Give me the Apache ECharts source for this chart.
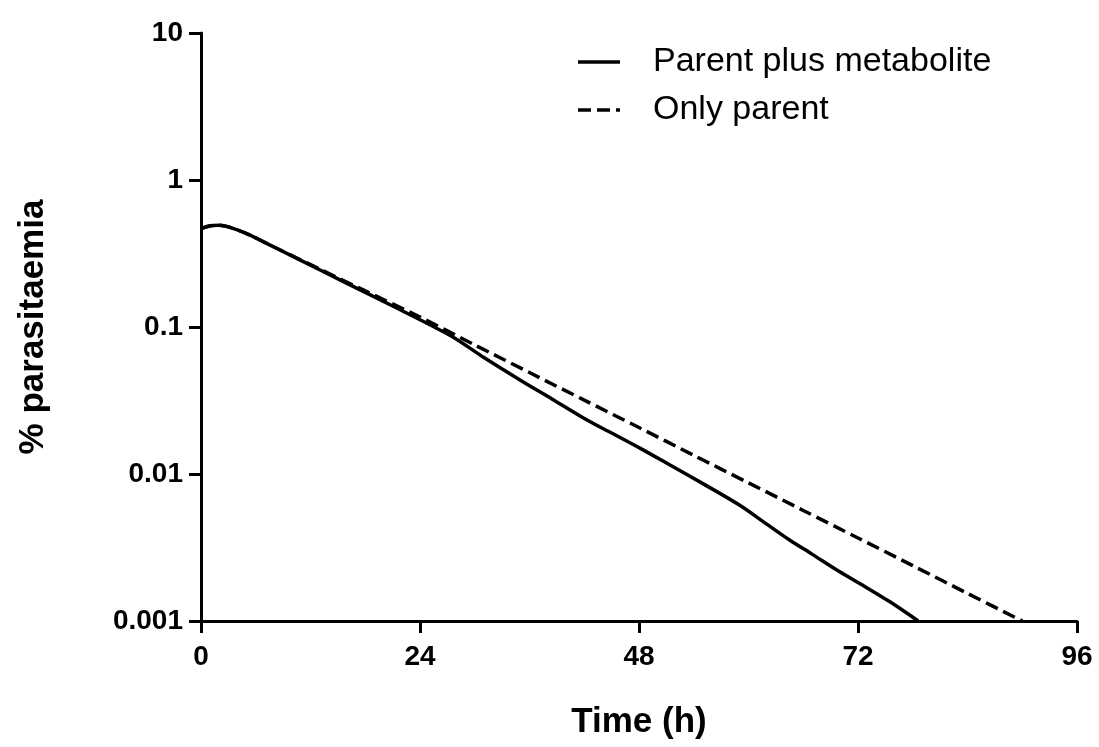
<!DOCTYPE html>
<html>
<head>
<meta charset="utf-8">
<script src="https://cdn.jsdelivr.net/npm/echarts@6/dist/echarts.min.js"></script>
<style>
  html, body { margin: 0; padding: 0; background: #fff; }
  #chart { width: 1099px; height: 747px; }
</style>
</head>
<body>
<div id="chart"></div>
<script>
// Simulated parasitaemia decline after dosing (log scale)
const seriesNames = ['Parent plus metabolite', 'Only parent'];

const timeParentMetabolite = [0, 1, 2, 3, 5, 8, 13, 18, 24, 27.6, 31, 35, 38.5, 42.3, 45, 48.1, 51.4, 55, 59, 62, 64.5, 67, 70, 73, 75.5, 78.6];
const valuesParentMetabolite = [0.465, 0.488, 0.492, 0.48, 0.432, 0.35, 0.245, 0.172, 0.112, 0.0855, 0.062, 0.0435, 0.0323, 0.0233, 0.019, 0.015, 0.0115, 0.0086, 0.00615, 0.00456, 0.00356, 0.00284, 0.00216, 0.00168, 0.00135, 0.001];

const timeOnlyParent = [0, 1, 2, 3, 5, 8, 13, 18, 24, 30, 36, 42, 48, 54, 60, 66, 72, 78, 84, 90];
const valuesOnlyParent = [0.465, 0.488, 0.492, 0.48, 0.432, 0.35, 0.248, 0.176, 0.117, 0.0755, 0.049, 0.0318, 0.0207, 0.0134, 0.0087, 0.00565, 0.00367, 0.00238, 0.00154, 0.001];

const xTicks = [0, 24, 48, 72, 96];
const yTickValues = [0.001, 0.01, 0.1, 1, 10];
const yTickLabels = ['0.001', '0.01', '0.1', '1', '10'];

const lineWidth = 3.5;
const dashPattern = [13, 6];

function pairs(xs, ys) {
  return xs.map((x, i) => [x, ys[i]]);
}

function yLabel(v) {
  let best = 0;
  for (let i = 1; i < yTickValues.length; i++) {
    if (Math.abs(Math.log10(v) - Math.log10(yTickValues[i])) <
        Math.abs(Math.log10(v) - Math.log10(yTickValues[best]))) best = i;
  }
  return yTickLabels[best];
}

const font = 'Liberation Sans, Arial, Helvetica, sans-serif';
const axisLine = { show: true, lineStyle: { color: '#000', width: 3 } };
const axisTick = { show: true, inside: false, length: 12, lineStyle: { color: '#000', width: 3 } };

// Key in the upper right: a line sample followed by the series name
function keyEntry(name, y, dash) {
  return [
    {
      type: 'line',
      shape: { x1: 578, y1: y, x2: 620, y2: y },
      style: { stroke: '#000', lineWidth: lineWidth, lineDash: dash || null }
    },
    {
      type: 'text',
      x: 653, y: y,
      style: {
        text: name, fill: '#000', font: '34px ' + font,
        textVerticalAlign: 'middle', verticalAlign: 'middle', textAlign: 'left', align: 'left'
      }
    }
  ];
}

const chart = echarts.init(document.getElementById('chart'), null, { renderer: 'canvas' });
chart.setOption({
  backgroundColor: '#fff',
  animation: false,
  grid: { left: 201, right: 22, top: 33, bottom: 126, containLabel: false },
  graphic: [].concat(keyEntry(seriesNames[0], 62, null), keyEntry(seriesNames[1], 110, dashPattern)),
  xAxis: {
    type: 'value',
    min: xTicks[0],
    max: xTicks[xTicks.length - 1],
    interval: 24,
    name: 'Time (h)',
    nameLocation: 'middle',
    nameGap: 84,
    nameTextStyle: { fontFamily: font, fontSize: 35, fontWeight: 'bold', color: '#000' },
    axisLine: axisLine,
    axisTick: axisTick,
    splitLine: { show: false },
    axisLabel: { fontFamily: font, fontSize: 28, fontWeight: 'bold', color: '#000', margin: 22 }
  },
  yAxis: {
    type: 'log',
    logBase: 10,
    min: yTickValues[0],
    max: yTickValues[yTickValues.length - 1],
    name: '% parasitaemia',
    nameLocation: 'middle',
    nameGap: 150,
    nameTextStyle: { fontFamily: font, fontSize: 35, fontWeight: 'bold', color: '#000' },
    axisLine: axisLine,
    axisTick: axisTick,
    splitLine: { show: false },
    minorTick: { show: false },
    axisLabel: {
      fontFamily: font, fontSize: 28, fontWeight: 'bold', color: '#000', margin: 18,
      formatter: yLabel
    }
  },
  series: [
    {
      name: seriesNames[0],
      type: 'line',
      data: pairs(timeParentMetabolite, valuesParentMetabolite),
      showSymbol: false,
      symbol: 'none',
      smooth: 0.3,
      lineStyle: { color: '#000', width: lineWidth, type: 'solid' },
      itemStyle: { color: '#000' },
      z: 3
    },
    {
      name: seriesNames[1],
      type: 'line',
      data: pairs(timeOnlyParent, valuesOnlyParent),
      showSymbol: false,
      symbol: 'none',
      smooth: 0.3,
      lineStyle: { color: '#000', width: lineWidth, type: dashPattern },
      itemStyle: { color: '#000' },
      z: 2
    }
  ]
});
</script>
</body>
</html>
